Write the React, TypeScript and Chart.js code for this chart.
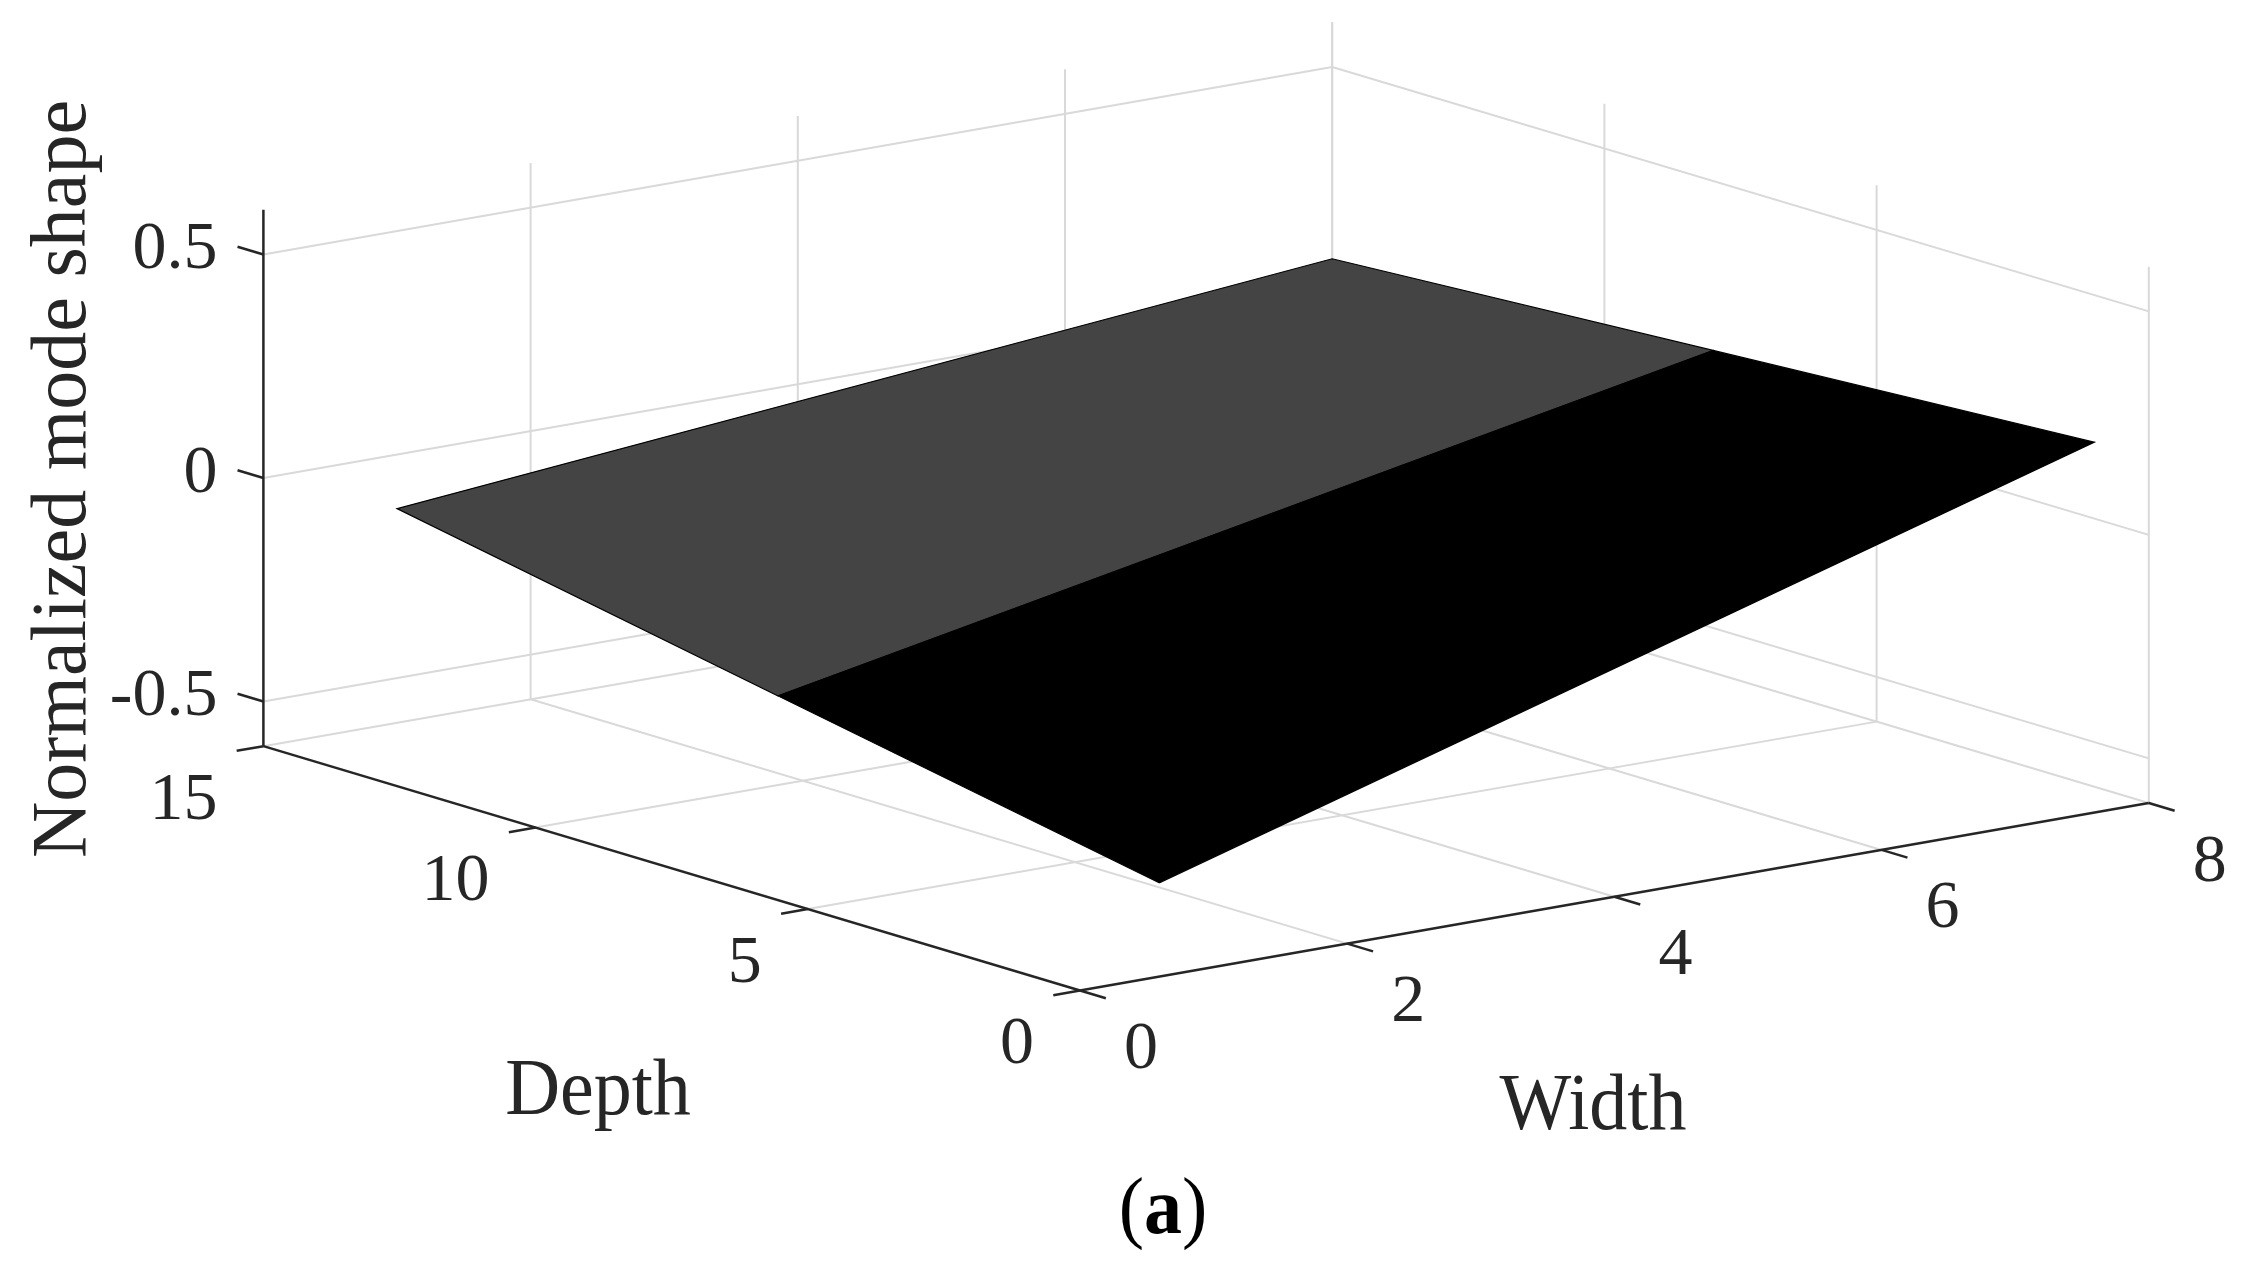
import React, { useEffect, useRef } from 'react';
import { Chart, registerables } from 'chart.js';

Chart.register(...registerables);

// ---------- data ----------
const WIDTH_TICKS = [0, 2, 4, 6, 8];
const DEPTH_TICKS = [0, 5, 10, 15];
const Z_TICKS = [-0.5, 0, 0.5];
const WIDTH_TICK_LABELS = ['0', '2', '4', '6', '8'];
const DEPTH_TICK_LABELS = ['0', '5', '10', '15'];
const Z_TICK_LABELS = ['-0.5', '0', '0.5'];
const WIDTH_LIMITS = [0, 8];
const DEPTH_LIMITS = [0, 15];
const Z_LIMITS = [-0.6, 0.6];

// surface grid (mode shape)
const SURF_WIDTH = [1, 8];
const SURF_DEPTH = [1, 8, 15];
const SURF_Z_AT_W1 = [-0.448, -0.285, -0.121];
const SURF_Z_AT_W8 = [0.171, 0.121, 0.071];

const X_LABEL = 'Width';
const Y_LABEL = 'Depth';
const Z_LABEL = 'Normalized mode shape';
const PANEL = 'a';

// ---------- view / style ----------
const CANVAS_W = 2256;
const CANVAS_H = 1280;
const VIEW = { ox: 1080, oy: 990.5, wx: 133.6, wy: -23.43, dx: -54.44, dy: -16.29, zy: -447 };
const FACE_COLORS = ['#000000', '#444444'];
const GRID_COLOR = '#d9d9d9';
const AXIS_COLOR = '#262626';
const TEXT_COLOR = '#262626';
const TICK_FONT = '68px "Liberation Serif", "Times New Roman", serif';
const LABEL_FONT = '76px "Liberation Serif", "Times New Roman", serif';
const ZLABEL_FONT = '78px "Liberation Serif", "Times New Roman", serif';
const BOLD_FONT = 'bold 76px "Liberation Serif", "Times New Roman", serif';

const proj = (w: number, d: number, z: number) => ({
  x: VIEW.ox + VIEW.wx * w + VIEW.dx * d,
  y: VIEW.oy + VIEW.wy * w + VIEW.dy * d + VIEW.zy * (z - Z_LIMITS[0]),
});

function seg(a: any, b: any, color: string, width: number, order: number) {
  return {
    data: [a, b],
    showLine: true,
    borderColor: color,
    backgroundColor: color,
    borderWidth: width,
    pointRadius: 0,
    pointHoverRadius: 0,
    fill: false,
    order,
    borderCapStyle: 'butt',
  };
}

function buildDatasets() {
  const ds: any[] = [];
  const [w0, w1] = WIDTH_LIMITS;
  const [d0, d1] = DEPTH_LIMITS;
  const [z0, z1] = Z_LIMITS;
  // back wall (depth = max)
  WIDTH_TICKS.filter((w) => w !== w0).forEach((w) => ds.push(seg(proj(w, d1, z0), proj(w, d1, z1), GRID_COLOR, 2, 20)));
  Z_TICKS.forEach((z) => ds.push(seg(proj(w0, d1, z), proj(w1, d1, z), GRID_COLOR, 2, 20)));
  // right wall (width = max)
  DEPTH_TICKS.forEach((d) => ds.push(seg(proj(w1, d, z0), proj(w1, d, z1), GRID_COLOR, 2, 20)));
  Z_TICKS.forEach((z) => ds.push(seg(proj(w1, d0, z), proj(w1, d1, z), GRID_COLOR, 2, 20)));
  // floor
  WIDTH_TICKS.filter((w) => w !== w0).forEach((w) => ds.push(seg(proj(w, d0, z0), proj(w, d1, z0), GRID_COLOR, 2, 20)));
  DEPTH_TICKS.filter((d) => d !== d0).forEach((d) => ds.push(seg(proj(w0, d, z0), proj(w1, d, z0), GRID_COLOR, 2, 20)));

  // surface faces
  for (let i = 0; i < SURF_DEPTH.length - 1; i++) {
    const pts = [
      proj(SURF_WIDTH[0], SURF_DEPTH[i], SURF_Z_AT_W1[i]),
      proj(SURF_WIDTH[0], SURF_DEPTH[i + 1], SURF_Z_AT_W1[i + 1]),
      proj(SURF_WIDTH[1], SURF_DEPTH[i + 1], SURF_Z_AT_W8[i + 1]),
      proj(SURF_WIDTH[1], SURF_DEPTH[i], SURF_Z_AT_W8[i]),
      proj(SURF_WIDTH[0], SURF_DEPTH[i], SURF_Z_AT_W1[i]),
    ];
    ds.push({
      data: pts,
      showLine: true,
      borderColor: '#000000',
      backgroundColor: FACE_COLORS[i],
      borderWidth: 1.2,
      pointRadius: 0,
      pointHoverRadius: 0,
      fill: 'shape',
      order: 10,
      borderJoinStyle: 'miter',
    });
  }

  // axis lines
  ds.push(seg(proj(w0, d1, z0), proj(w0, d1, z1), AXIS_COLOR, 2.5, 1));
  ds.push(seg(proj(w0, d1, z0), proj(w0, d0, z0), AXIS_COLOR, 2.5, 1));
  ds.push(seg(proj(w0, d0, z0), proj(w1, d0, z0), AXIS_COLOR, 2.5, 1));
  // ticks
  const zTickLen = 0.475; // in depth units
  const dTickLen = 0.2; // in width units
  const wTickLen = 0.475; // in depth units
  Z_TICKS.forEach((z) => ds.push(seg(proj(w0, d1, z), proj(w0, d1 + zTickLen, z), AXIS_COLOR, 2.5, 1)));
  DEPTH_TICKS.forEach((d) => ds.push(seg(proj(w0, d, z0), proj(w0 - dTickLen, d, z0), AXIS_COLOR, 2.5, 1)));
  WIDTH_TICKS.forEach((w) => ds.push(seg(proj(w, d0, z0), proj(w, d0 - wTickLen, z0), AXIS_COLOR, 2.5, 1)));
  return ds;
}

function stretchedText(ctx: CanvasRenderingContext2D, text: string, x: number, y: number, sy: number) {
  ctx.save();
  ctx.translate(x, y);
  ctx.scale(1, sy);
  ctx.fillText(text, 0, 0);
  ctx.restore();
}

const labelsPlugin = {
  id: 'labels3d',
  afterDatasetsDraw(chart: any) {
    const ctx: CanvasRenderingContext2D = chart.ctx;
    const xs = chart.scales.x;
    const ys = chart.scales.y;
    const px = (p: { x: number; y: number }) => ({ x: xs.getPixelForValue(p.x), y: ys.getPixelForValue(p.y) });
    const [w0] = WIDTH_LIMITS;
    const [d0, d1] = DEPTH_LIMITS;
    const [z0] = Z_LIMITS;
    ctx.save();
    ctx.fillStyle = TEXT_COLOR;
    ctx.font = TICK_FONT;
    ctx.textBaseline = 'alphabetic';
    // z tick labels
    ctx.textAlign = 'right';
    Z_TICKS.forEach((z, i) => {
      const p = px(proj(w0, d1, z));
      ctx.fillText(Z_TICK_LABELS[i], p.x - 46, p.y + 14);
    });
    // depth tick labels
    DEPTH_TICKS.forEach((d, i) => {
      const p = px(proj(w0, d, z0));
      ctx.fillText(DEPTH_TICK_LABELS[i], p.x - 46, p.y + 72.5);
    });
    // width tick labels
    ctx.textAlign = 'center';
    WIDTH_TICKS.forEach((w, i) => {
      const p = px(proj(w, d0, z0));
      ctx.fillText(WIDTH_TICK_LABELS[i], p.x + 61, p.y + 77.5);
    });
    // axis titles
    ctx.font = LABEL_FONT;
    ctx.textAlign = 'center';
    stretchedText(ctx, Y_LABEL, 598, 1114, 1.07);
    stretchedText(ctx, X_LABEL, 1593, 1129, 1.07);
    ctx.save();
    ctx.font = ZLABEL_FONT;
    ctx.translate(85, 479);
    ctx.rotate(-Math.PI / 2);
    ctx.fillText(Z_LABEL, 0, 0);
    ctx.restore();
    // panel label "(a)"
    ctx.fillStyle = '#000000';
    ctx.textAlign = 'left';
    ctx.font = LABEL_FONT;
    const wo = ctx.measureText('(').width;
    const wc = ctx.measureText(')').width;
    ctx.font = BOLD_FONT;
    const wa = ctx.measureText(PANEL).width;
    let x = 1163 - (wo + wa + wc) / 2;
    const by = 1233;
    ctx.font = LABEL_FONT;
    stretchedText(ctx, '(', x, by, 1.07);
    x += wo;
    ctx.font = BOLD_FONT;
    stretchedText(ctx, PANEL, x, by, 1.07);
    x += wa;
    ctx.font = LABEL_FONT;
    stretchedText(ctx, ')', x, by, 1.07);
    ctx.restore();
  },
};

export default function App() {
  const ref = useRef<HTMLCanvasElement | null>(null);
  useEffect(() => {
    if (!ref.current) return;
    const chart = new Chart(ref.current, {
      type: 'scatter',
      data: { datasets: buildDatasets() },
      options: {
        animation: false,
        responsive: false,
        devicePixelRatio: 1,
        events: [],
        layout: { padding: 0 },
        plugins: { legend: { display: false }, tooltip: { enabled: false }, title: { display: false } },
        scales: {
          x: { type: 'linear', min: 0, max: CANVAS_W, display: false },
          y: { type: 'linear', min: 0, max: CANVAS_H, reverse: true, display: false },
        },
      } as any,
      plugins: [labelsPlugin],
    } as any);
    return () => chart.destroy();
  }, []);
  return (
    <div style={{ position: 'fixed', left: 0, top: 0, width: CANVAS_W, height: CANVAS_H, background: '#ffffff' }}>
      <canvas ref={ref} width={CANVAS_W} height={CANVAS_H} style={{ display: 'block' }} />
    </div>
  );
}
